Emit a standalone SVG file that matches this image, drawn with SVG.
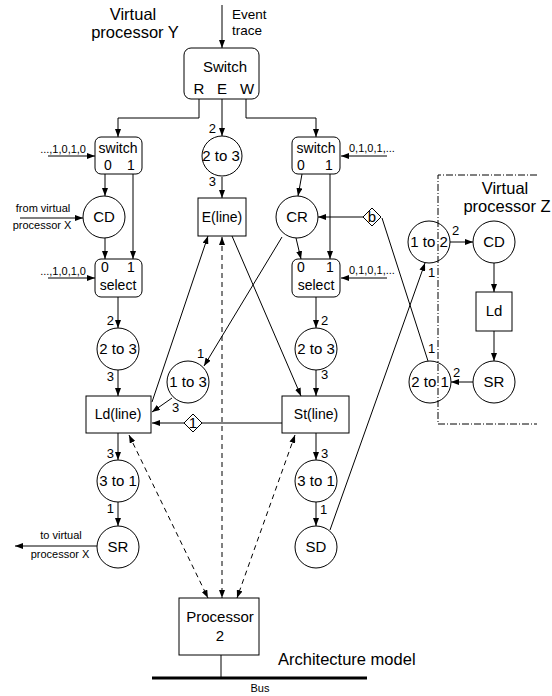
<svg xmlns="http://www.w3.org/2000/svg" width="552" height="696" viewBox="0 0 552 696">
<defs>
<marker id="ah" viewBox="0 0 8 6" refX="8" refY="3" markerWidth="8" markerHeight="6" markerUnits="userSpaceOnUse" orient="auto-start-reverse"><path d="M0,0 L8,3 L0,6 z" fill="#000"/></marker>
</defs>
<style>
text{font-family:"Liberation Sans",Arial,sans-serif;fill:#000}
.n{font-size:15px;text-anchor:middle}
.b{font-size:14px;text-anchor:middle}
.s{font-size:13px}
.t{font-size:11px}
.big{font-size:16.5px}
.c{fill:#fff;stroke:#000;stroke-width:1}
.ln{fill:none;stroke:#000;stroke-width:1}
.ar{fill:none;stroke:#000;stroke-width:1;marker-end:url(#ah)}
.da{fill:none;stroke:#000;stroke-width:1;stroke-dasharray:5,4;marker-end:url(#ah);marker-start:url(#ah)}
.dd{fill:none;stroke:#000;stroke-width:1;stroke-dasharray:7,2,1,2}
</style>
<rect width="552" height="696" fill="#fff"/>

<g id="labels">
<text class="big" x="133" y="20" text-anchor="middle">Virtual</text>
<text class="big" x="135" y="38" text-anchor="middle">processor Y</text>
<text x="232" y="19" font-size="13.5">Event</text>
<text x="232" y="35" font-size="13.5">trace</text>
<text class="big" x="505" y="194" text-anchor="middle">Virtual</text>
<text class="big" x="507" y="212" text-anchor="middle">processor Z</text>
<text class="big" x="278" y="665">Architecture model</text>
<text x="260" y="692" font-size="11" text-anchor="middle">Bus</text>
<text class="t" x="86" y="153" text-anchor="end">...,1,0,1,0</text>
<text class="t" x="86" y="275" text-anchor="end">...,1,0,1,0</text>
<text class="t" x="349" y="152">0,1,0,1,...</text>
<text class="t" x="349" y="274">0,1,0,1,...</text>
<text class="t" x="43" y="212" text-anchor="middle">from virtual</text>
<text class="t" x="42" y="229" text-anchor="middle">processor X</text>
<text class="t" x="61" y="539" text-anchor="middle">to virtual</text>
<text class="t" x="60" y="558" text-anchor="middle">processor X</text>
</g>

<g id="vpz-frame">
<path class="dd" d="M537,175 H438 V424 H537"/>
</g>

<g id="connectors">
<line class="ar" x1="222" y1="5" x2="222" y2="48"/>
<polyline class="ar" points="199,99 199,118 118,118 118,137"/>
<line class="ar" x1="222" y1="99" x2="222" y2="136"/>
<polyline class="ar" points="246,99 246,118 316,118 316,137"/>
<line class="ar" x1="222" y1="177" x2="222" y2="198"/>
<!-- left -->
<line class="ar" x1="48" y1="156" x2="95" y2="156"/>
<line class="ar" x1="105" y1="174" x2="105" y2="196"/>
<line class="ar" x1="133" y1="174" x2="133" y2="259"/>
<line class="ar" x1="20" y1="218" x2="83" y2="218"/>
<line class="ar" x1="105" y1="238" x2="105" y2="259"/>
<line class="ar" x1="48" y1="278" x2="95" y2="278"/>
<line class="ar" x1="118" y1="297" x2="118" y2="328"/>
<line class="ar" x1="118" y1="370" x2="118" y2="396"/>
<line class="ar" x1="118" y1="433" x2="118" y2="460"/>
<line class="ar" x1="118" y1="502" x2="118" y2="526"/>
<line class="ar" x1="97" y1="546" x2="15" y2="546"/>
<!-- right -->
<line class="ar" x1="387" y1="156" x2="341" y2="156"/>
<line class="ar" x1="302" y1="174" x2="298" y2="196"/>
<line class="ar" x1="330" y1="174" x2="330" y2="259"/>
<line class="ar" x1="296" y1="238" x2="301" y2="259"/>
<line class="ar" x1="363" y1="217" x2="318" y2="217"/>
<line class="ar" x1="387" y1="278" x2="341" y2="278"/>
<line class="ar" x1="316" y1="297" x2="316" y2="328"/>
<line class="ar" x1="316" y1="370" x2="316" y2="396"/>
<line class="ar" x1="316" y1="433" x2="316" y2="460"/>
<line class="ar" x1="316" y1="502" x2="316" y2="526"/>
<!-- crossing -->
<line class="ar" x1="152" y1="402" x2="208" y2="236"/>
<line class="ar" x1="232" y1="236" x2="301" y2="396"/>
<line class="ar" x1="282" y1="237" x2="204" y2="366"/>
<line class="ar" x1="172" y1="398" x2="152" y2="412"/>
<line class="ar" x1="184" y1="423" x2="152" y2="423"/>
<line class="ln" x1="202" y1="423" x2="282" y2="423"/>
<line class="ar" x1="330" y1="530" x2="425" y2="263"/>
<line class="ln" x1="382" y1="218" x2="428" y2="361"/>
<!-- Z -->
<line class="ar" x1="450" y1="242" x2="473" y2="242"/>
<line class="ar" x1="494" y1="263" x2="494" y2="292"/>
<line class="ar" x1="494" y1="331" x2="494" y2="361"/>
<line class="ar" x1="473" y1="382" x2="451" y2="382"/>
<!-- dashed -->
<line class="da" x1="129" y1="435" x2="208" y2="598"/>
<line class="da" x1="222" y1="237" x2="222" y2="598"/>
<line class="da" x1="295" y1="435" x2="237" y2="598"/>
<!-- bus -->
<line class="ln" x1="221" y1="655" x2="221" y2="678"/>
<line x1="152" y1="678" x2="367" y2="678" stroke="#000" stroke-width="3"/>
<!-- port labels -->
<text class="s" x="216" y="133" text-anchor="end">2</text>
<text class="s" x="216" y="186" text-anchor="end">3</text>
<text class="s" x="114" y="325" text-anchor="end">2</text>
<text class="s" x="114" y="381" text-anchor="end">3</text>
<text class="s" x="114" y="458" text-anchor="end">3</text>
<text class="s" x="114" y="513" text-anchor="end">1</text>
<text class="s" x="321" y="325">2</text>
<text class="s" x="321" y="379">3</text>
<text class="s" x="321" y="458">3</text>
<text class="s" x="320" y="514">1</text>
<text class="s" x="197" y="358">1</text>
<text class="s" x="172" y="412">3</text>
<text class="s" x="428" y="277">1</text>
<text class="s" x="428" y="353">1</text>
<text class="s" x="452" y="235">2</text>
<text class="s" x="453" y="377">2</text>
</g>

<g id="switch"><rect class="c" x="184" y="48" width="75" height="51" rx="7"/>
<text class="n" x="225" y="72">Switch</text>
<text class="n" x="199" y="94">R</text><text class="n" x="222" y="94">E</text><text class="n" x="247" y="94">W</text></g>

<g id="switchL"><rect class="c" x="95" y="137" width="47" height="37" rx="6"/>
<text class="b" x="118" y="153">switch</text>
<text class="b" x="108" y="170">0</text><text class="b" x="131" y="170">1</text></g>
<g id="cdL"><circle class="c" cx="104" cy="217" r="21"/><text class="n" x="104" y="222">CD</text></g>
<g id="selectL"><rect class="c" x="95" y="259" width="47" height="38" rx="6"/>
<text class="b" x="105" y="272">0</text><text class="b" x="131" y="272">1</text>
<text class="b" x="118" y="290">select</text></g>
<g id="c23L"><circle class="c" cx="118" cy="349" r="21"/><text class="n" x="118" y="354">2 to 3</text></g>
<g id="ldline"><rect class="c" x="86" y="396" width="65" height="37"/><text class="b" x="118" y="419">Ld(line)</text></g>
<g id="c31L"><circle class="c" cx="118" cy="481" r="21"/><text class="n" x="118" y="486">3 to 1</text></g>
<g id="srL"><circle class="c" cx="118" cy="547" r="21"/><text class="n" x="118" y="552">SR</text></g>

<g id="c23C"><circle class="c" cx="222" cy="156" r="20"/><text class="n" x="221" y="161">2 to 3</text></g>
<g id="eline"><rect class="c" x="198" y="198" width="48" height="38"/><text class="b" x="222" y="222">E(line)</text></g>
<g id="c13"><circle class="c" cx="188" cy="382" r="21"/><text class="n" x="188" y="387">1 to 3</text></g>
<g id="d1"><path class="c" d="M193,414 L202,423 L193,432 L184,423 z"/><text class="n" x="193" y="428" font-size="13">1</text></g>

<g id="switchR"><rect class="c" x="292" y="137" width="48" height="37" rx="6"/>
<text class="b" x="316" y="153">switch</text>
<text class="b" x="301" y="170">0</text><text class="b" x="329" y="170">1</text></g>
<g id="cr"><circle class="c" cx="297" cy="217" r="21"/><text class="n" x="297" y="222">CR</text></g>
<g id="db"><path class="c" d="M372,208 L381,217 L372,226 L363,217 z"/><text class="n" x="372" y="222" font-size="13">b</text></g>
<g id="selectR"><rect class="c" x="292" y="259" width="48" height="38" rx="6"/>
<text class="b" x="301" y="272">0</text><text class="b" x="330" y="272">1</text>
<text class="b" x="316" y="290">select</text></g>
<g id="c23R"><circle class="c" cx="316" cy="349" r="21"/><text class="n" x="316" y="354">2 to 3</text></g>
<g id="stline"><rect class="c" x="282" y="396" width="67" height="37"/><text class="b" x="316" y="419">St(line)</text></g>
<g id="c31R"><circle class="c" cx="316" cy="481" r="21"/><text class="n" x="316" y="486">3 to 1</text></g>
<g id="sd"><circle class="c" cx="316" cy="547" r="21"/><text class="n" x="316" y="552">SD</text></g>

<g id="c12"><circle class="c" cx="429" cy="242" r="21" fill-opacity="0"/><text class="n" x="429" y="247">1 to 2</text></g>
<g id="cdZ"><circle class="c" cx="494" cy="242" r="21"/><text class="n" x="494" y="247">CD</text></g>
<g id="ldZ"><rect class="c" x="476" y="292" width="36" height="39"/><text class="n" x="494" y="316">Ld</text></g>
<g id="srZ"><circle class="c" cx="494" cy="382" r="21"/><text class="n" x="494" y="387">SR</text></g>
<g id="c21"><circle class="c" cx="430" cy="382" r="21" fill-opacity="0"/><text class="n" x="430" y="387">2 to 1</text></g>

<g id="processor"><rect class="c" x="179" y="598" width="80" height="57"/>
<text class="n" x="220" y="622">Processor</text><text class="n" x="220" y="641">2</text></g>
</svg>
